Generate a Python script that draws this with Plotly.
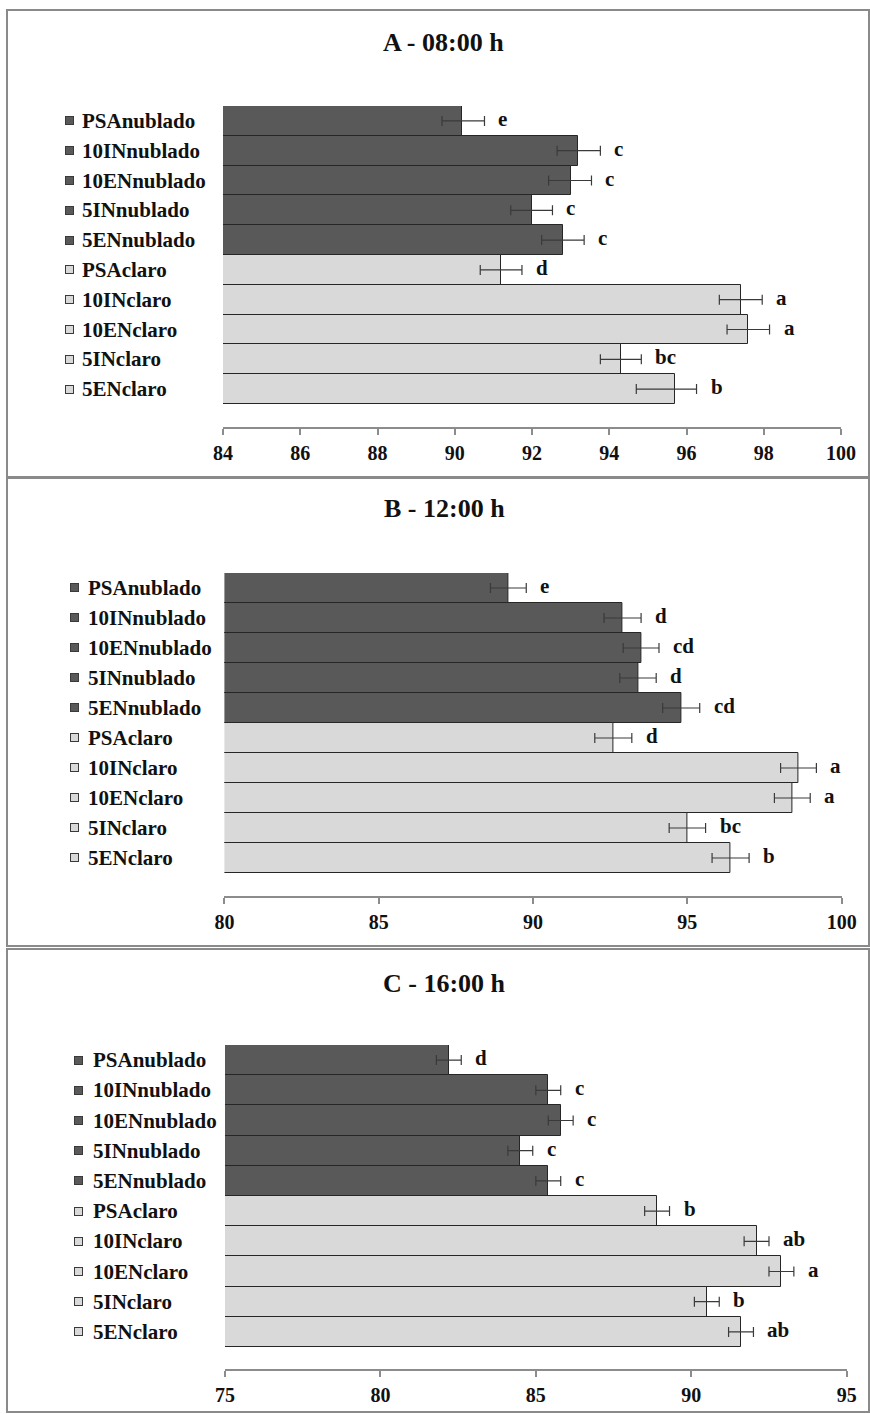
import plotly.graph_objects as go

# ---------------- data ----------------
categories = ["PSAnublado", "10INnublado", "10ENnublado", "5INnublado", "5ENnublado",
              "PSAclaro", "10INclaro", "10ENclaro", "5INclaro", "5ENclaro"]
group = ["nublado"] * 5 + ["claro"] * 5

titles = ["A - 08:00 h", "B - 12:00 h", "C - 16:00 h"]

values_a = [90.2, 93.2, 93.0, 92.0, 92.8, 91.2, 97.4, 97.6, 94.3, 95.7]
err_a_plus = [0.57, 0.57, 0.54, 0.53, 0.55, 0.54, 0.56, 0.55, 0.53, 0.56]
err_a_minus = [0.53, 0.55, 0.57, 0.55, 0.55, 0.54, 0.55, 0.55, 0.53, 1.0]
letters_a = ["e", "c", "c", "c", "c", "d", "a", "a", "bc", "b"]

values_b = [89.2, 92.9, 93.5, 93.4, 94.8, 92.6, 98.6, 98.4, 95.0, 96.4]
err_b_plus = [0.58, 0.6, 0.58, 0.59, 0.6, 0.6, 0.58, 0.58, 0.59, 0.6]
err_b_minus = [0.58, 0.6, 0.58, 0.59, 0.6, 0.6, 0.58, 0.58, 0.59, 0.6]
letters_b = ["e", "d", "cd", "d", "cd", "d", "a", "a", "bc", "b"]

values_c = [82.2, 85.4, 85.8, 84.5, 85.4, 88.9, 92.1, 92.9, 90.5, 91.6]
err_c_plus = [0.4, 0.4, 0.4, 0.4, 0.4, 0.4, 0.4, 0.4, 0.4, 0.4]
err_c_minus = [0.4, 0.4, 0.4, 0.4, 0.4, 0.4, 0.4, 0.4, 0.4, 0.4]
letters_c = ["d", "c", "c", "c", "c", "b", "ab", "a", "b", "ab"]

x_ranges = [[84, 100], [80, 100], [75, 95]]
x_dticks = [2, 5, 5]

# ---------------- layout geometry (pixels) ----------------
W, H = 870, 1414
DARK, LIGHT = "#595959", "#d9d9d9"
FONT = "Liberation Serif"

panels = [
    dict(xd=(223, 841), top=106, bot=404, axis=427, ty=42, tx=443, lx=80, sx=69.5, box=(10, 477)),
    dict(xd=(224.4, 841.7), top=573, bot=873, axis=896, ty=509, tx=444, lx=86, sx=74.5, box=(478, 946)),
    dict(xd=(225, 846.7), top=1045, bot=1347, axis=1369, ty=983, tx=444, lx=91, sx=78.5, box=(949, 1412)),
]

series = [
    (values_a, err_a_plus, err_a_minus, letters_a),
    (values_b, err_b_plus, err_b_minus, letters_b),
    (values_c, err_c_plus, err_c_minus, letters_c),
]


def px(x):
    return x / W


def py(y):
    return 1 - y / H


fig = go.Figure()
annotations = []
shapes = []
colors = [DARK if g == "nublado" else LIGHT for g in group]

for i, (p, (vals, ep, em, lets)) in enumerate(zip(panels, series)):
    k = "" if i == 0 else str(i + 1)
    xa, ya = "x" + k, "y" + k
    fig.add_trace(go.Bar(
        x=vals, y=categories, orientation="h",
        marker=dict(color=colors, line=dict(color="#262626", width=1)),
        error_x=dict(type="data", symmetric=False, array=ep, arrayminus=em,
                     color="#3a3a3a", thickness=1.2, width=5),
        xaxis=xa, yaxis=ya, showlegend=False, hoverinfo="x+y",
    ))
    slot = (p["bot"] - p["top"]) / len(categories)
    ext = (p["axis"] - p["bot"]) / slot
    fig.layout["xaxis" + k] = dict(
        domain=[px(p["xd"][0]), px(p["xd"][1])], anchor=ya, automargin=False,
        range=x_ranges[i], dtick=x_dticks[i], tick0=x_ranges[i][0],
        showline=True, linecolor="#8c8c8c", linewidth=1.5,
        ticks="outside", ticklen=6, tickcolor="#8c8c8c", tickwidth=1.5,
        showgrid=False, zeroline=False, ticklabelstandoff=1,
        tickfont=dict(family=FONT, size=20, color="#111", weight="bold"),
    )
    fig.layout["yaxis" + k] = dict(
        domain=[py(p["axis"]), py(p["top"])], anchor=xa, automargin=False,
        type="category", categoryorder="array", categoryarray=categories,
        range=[len(categories) - 0.5 + ext, -0.5],
        showticklabels=False, showline=False, showgrid=False, zeroline=False, ticks="",
    )
    annotations.append(dict(text=titles[i], xref="paper", yref="paper",
                            x=px(p["tx"]), y=py(p["ty"]), xanchor="center", yanchor="middle",
                            showarrow=False,
                            font=dict(family=FONT, size=26, color="#111", weight="bold")))
    for c, g, v, e, lt in zip(categories, group, vals, ep, lets):
        annotations.append(dict(text=c, xref="paper", yref=ya, x=px(p["lx"]), y=c,
                                xanchor="left", yanchor="middle", showarrow=False,
                                font=dict(family=FONT, size=21, color="#111", weight="bold")))
        annotations.append(dict(text=" ", xref="paper", yref=ya, x=px(p["sx"]), y=c,
                                xanchor="center", yanchor="middle", showarrow=False,
                                width=7, height=7, borderpad=0, borderwidth=1,
                                bordercolor="#3a3a3a", bgcolor=DARK if g == "nublado" else LIGHT,
                                font=dict(size=4)))
        annotations.append(dict(text=lt, xref=xa, yref=ya, x=v + e, y=c,
                                xanchor="left", yanchor="middle", xshift=12, yshift=2,
                                showarrow=False,
                                font=dict(family=FONT, size=21, color="#111", weight="bold")))
    shapes.append(dict(type="rect", xref="paper", yref="paper",
                       x0=px(7), x1=px(869), y0=py(p["box"][1]), y1=py(p["box"][0]),
                       line=dict(color="#8a8a8a", width=2), fillcolor="rgba(0,0,0,0)"))

fig.update_layout(
    width=W, height=H, margin=dict(l=0, r=0, t=0, b=0, autoexpand=False),
    paper_bgcolor="white", plot_bgcolor="white", showlegend=False,
    bargap=0, annotations=annotations, shapes=shapes,
)

fig.write_html(
    "out.html",
    config={"displayModeBar": False},
    post_script="document.body.style.margin='0';document.body.style.overflow='hidden';",
)
